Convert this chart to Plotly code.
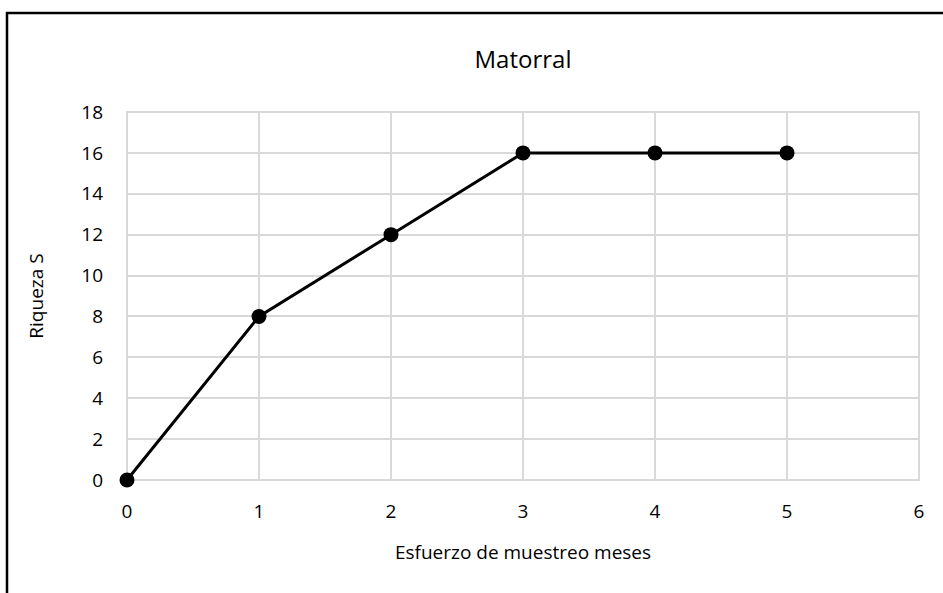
import plotly.graph_objects as go

meses = [0, 1, 2, 3, 4, 5]
riqueza = [0, 8, 12, 16, 16, 16]

W, H = 943, 593
L, R, T, B = 127, 24, 112, 113
pw, ph = W - L - R, H - T - B

fig = go.Figure()
fig.add_trace(go.Scatter(
    x=meses, y=riqueza, mode="lines+markers",
    line=dict(color="black", width=3),
    marker=dict(color="black", size=15),
    cliponaxis=False,
    showlegend=False,
))

font = "Open Sans, Liberation Sans, sans-serif"
fig.update_layout(
    width=W, height=H,
    margin=dict(l=L, r=R, t=T, b=B),
    paper_bgcolor="white", plot_bgcolor="white",
    font=dict(family=font, color="black", size=16),
    title=dict(text="Matorral", x=(L + pw / 2) / W, xanchor="center",
               y=1 - 60 / H, yanchor="middle", font=dict(size=24)),
    xaxis=dict(range=[0, 6], dtick=1, showgrid=True, gridcolor="#d9d9d9",
               gridwidth=2, zeroline=False, showline=False, ticks="",
               ticklabelstandoff=18, tickfont=dict(size=19),
               title=dict(text="Esfuerzo de muestreo meses", standoff=22)),
    yaxis=dict(range=[0, 18], dtick=2, showgrid=True, gridcolor="#d9d9d9",
               gridwidth=2, zeroline=False, showline=False, ticks="",
               ticklabelstandoff=23, tickfont=dict(size=19),
               title=dict(text="Riqueza S", standoff=32)),
    shapes=[
        dict(type="rect", xref="paper", yref="paper", x0=0, x1=1, y0=0, y1=1,
             line=dict(color="#d9d9d9", width=2), layer="below"),
        # chart border, cropped at right and bottom
        dict(type="rect", xref="paper", yref="paper",
             x0=(7 - L) / pw, x1=(W + 20 - L) / pw,
             y0=-(H + 20 - T - ph) / ph, y1=(T + ph - 13) / ph,
             line=dict(color="black", width=2.5)),
    ],
)

fig.write_html("out.html", config={"displayModeBar": False},
               post_script="document.body.style.margin='0';")
